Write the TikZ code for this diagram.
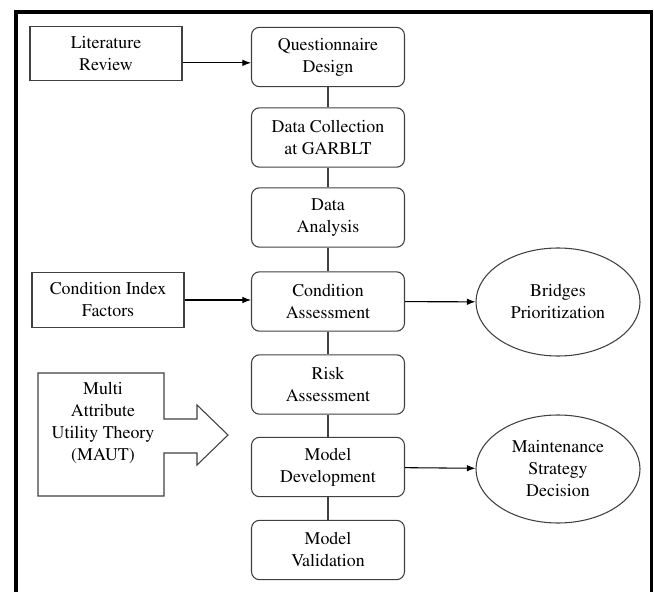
\documentclass[tikz,border=0pt]{standalone}
\usepackage[T1]{fontenc}
\usepackage{mathptmx}
\usetikzlibrary{shapes.geometric,arrows.meta}

\begin{document}
\begin{tikzpicture}
	[x=0.75pt,y=0.75pt,
	 color=black!75,line width=0.8pt,
	 every node/.style={text=black,inner sep=1pt,align=center,font=\rmfamily\fontsize{13.4}{16.5}\selectfont},
	 stagebox/.style={draw,rounded corners=6pt,minimum width=114.75pt,minimum height=44.5pt},
	 inputbox/.style={draw,rectangle,minimum width=114pt,minimum height=41pt},
	 outcome/.style={draw,ellipse,minimum width=123pt,minimum height=81pt,inner sep=0pt},
	 arr/.style={black,-{Latex[length=6.5pt,width=5pt]}} ]

\clip (0,0) rectangle (654,-592);
\draw[black,line width=2.3pt] (16,-12) rectangle (651.5,-620);

% main column
\node [stagebox] (quest) at (328,-57) {Questionnaire\\Design};
\node [stagebox] (collect) at (328,-137.5) {Data Collection\\at GARBLT};
\node [stagebox] (analysis) at (328,-217.5) {Data\\Analysis};
\node [stagebox] (condass) at (328,-301.5) {Condition\\Assessment};
\node [stagebox] (riskass) at (328,-384.5) {Risk\\Assessment};
\node [stagebox] (modeldev) at (328,-467) {Model\\Development};
\node [stagebox] (modelval) at (328,-550) {Model\\Validation};

  \draw (quest) -- (collect);
  \draw (collect) -- (analysis);
  \draw (analysis) -- (condass);
  \draw (condass) -- (riskass);
  \draw (riskass) -- (modeldev);
  \draw (modeldev) -- (modelval);

% inputs
\node [inputbox] (litrev) at (106,-53.5) {Literature\\Review};
\node [inputbox] (cif) at (108,-300) {Condition Index\\Factors};
\node (maut) at (103,-423) {Multi\\Attribute\\Utility Theory\\(MAUT)};
\draw (38,-373) -- (164,-373) -- (164,-419) -- (197,-419) -- (197,-405) -- (228,-435)
  -- (197,-465) -- (197,-453) -- (164,-453) -- (164,-496) -- (38,-496) -- cycle;

  \draw[arr] ([yshift=-7pt]litrev.east) -- ([yshift=-7pt]litrev.east -| quest.west);
  \draw[arr] (cif.east) -- (cif.east -| condass.west);

% outcomes
\node [outcome] (bridges) at (558,-302) {Bridges\\Prioritization};
\node [outcome] (maint) at (558,-469) {Maintenance\\Strategy\\Decision};

  \draw[arr] (condass) -- (bridges);
  \draw[arr] (modeldev) -- (maint);

\end{tikzpicture}
\end{document}
